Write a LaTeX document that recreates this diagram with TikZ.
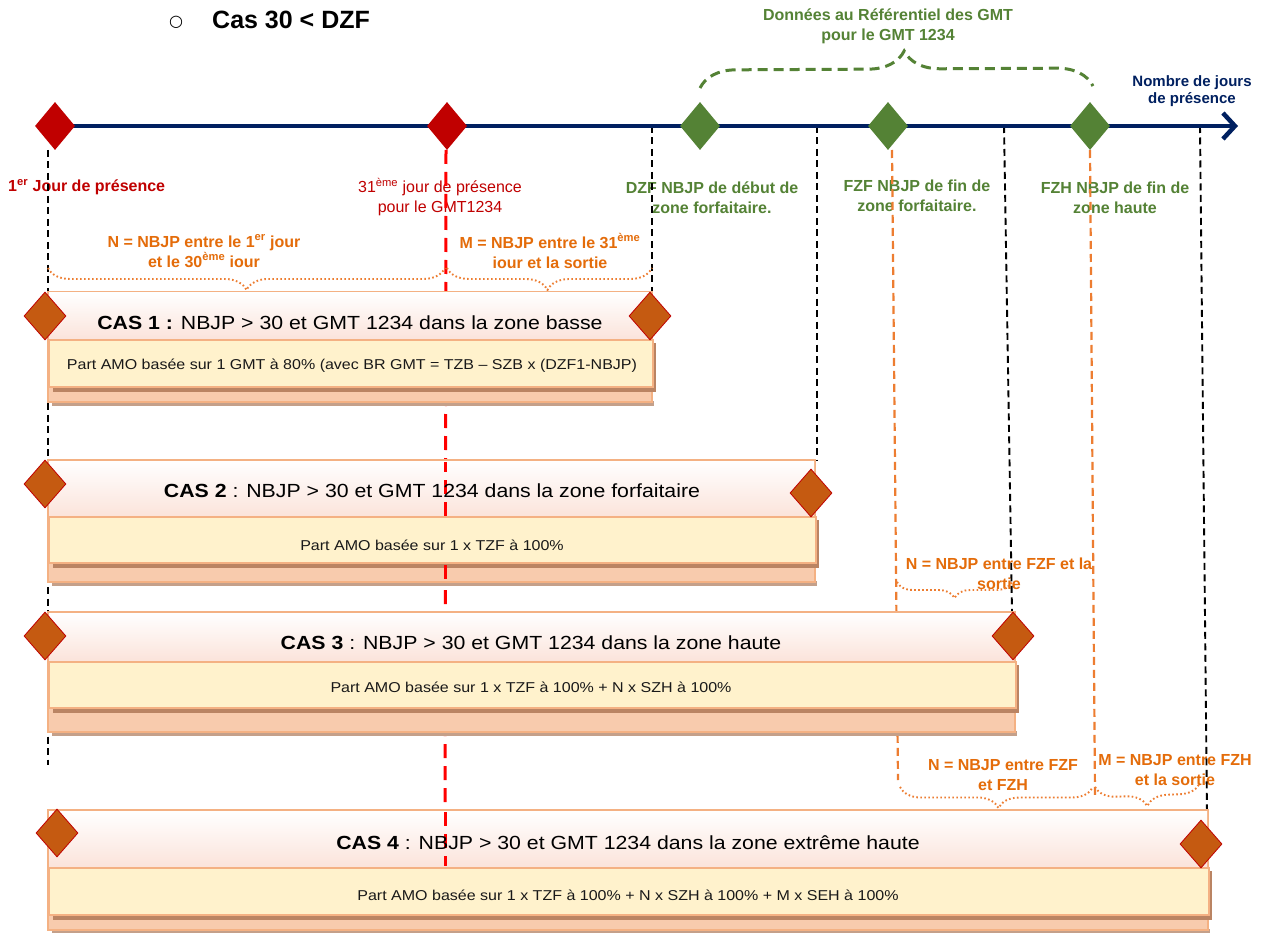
\documentclass[tikz,border=0pt]{standalone}
\usepackage{fontspec}
\setmainfont{Liberation Sans}
\newfontfamily\stretchfont[FakeStretch=1.12]{Liberation Sans}
\newfontfamily\symfont{DejaVu Sans}
\usetikzlibrary{shapes.geometric,decorations.pathreplacing,arrows.meta}
\definecolor{navy}{HTML}{002060}
\definecolor{dred}{HTML}{C00000}
\definecolor{bred}{HTML}{FF0000}
\definecolor{dgreen}{HTML}{548235}
\definecolor{orng}{HTML}{E46C0A}
\definecolor{orngl}{HTML}{ED7D31}
\definecolor{brn}{HTML}{C55A11}
\definecolor{salmon}{HTML}{F4B183}
\definecolor{bandc}{HTML}{F8CBAD}
\definecolor{cream}{HTML}{FFF2CC}
\definecolor{shad}{HTML}{BA8463}
\definecolor{shadb}{HTML}{C4A08A}
\definecolor{pinkish}{HTML}{FBE3DA}
\newcommand\drawcas[6]{%
  \fill[shadb] (#1+4,#6-4) rectangle (#2+2,#6+1);
  \filldraw[fill=bandc, draw=salmon, line width=2pt] (#1,#3) rectangle (#2,#6-3);
  \shade[top color=white, bottom color=pinkish] (#1+1,#3+1) rectangle (#2-1,#4);
  \fill[shad] (#1+5,#4+3) rectangle (#2+4,#5+5);
  \filldraw[fill=cream, draw=salmon, line width=2pt] (#1+1,#4) rectangle (#2+1,#5);
}
\tikzset{
  axdia/.style={diamond, aspect=1, inner sep=0pt, minimum width=40pt, minimum height=48pt, draw=none},
  reddia/.style={axdia, fill=dred},
  greendia/.style={axdia, fill=dgreen},
  casdia/.style={diamond, aspect=1, inner sep=0pt, minimum width=42pt, minimum height=48pt, fill=brn, draw=dred, line width=0.8pt},
  blackdash/.style={draw=black, line width=1.9pt, dash pattern=on 7pt off 4.5pt},
  reddash/.style={draw=bred, line width=3pt, dash pattern=on 14pt off 8pt},
  orngdash/.style={draw=orngl, line width=2.2pt, dash pattern=on 8pt off 5pt},
  obrace/.style={draw=orngl, line width=1.9pt, dash pattern=on 1.6pt off 2.4pt, decorate},
  gbrace/.style={draw=dgreen, line width=3pt, dash pattern=on 10pt off 6pt, decorate},
  lblb/.style={align=center, inner sep=0pt, font=\fontsize{16}{20}\selectfont\bfseries},
  lblr/.style={align=center, inner sep=0pt, font=\fontsize{16}{20}\selectfont},
  hdr/.style={inner sep=0pt, font=\stretchfont\fontsize{19}{22}\selectfont},
  inr/.style={inner sep=0pt, font=\stretchfont\fontsize{14.3}{17}\selectfont, text=black!90},
}
\begin{document}
\begin{tikzpicture}[x=1pt, y=-1pt]
\fill[white] (0,0) rectangle (1274,933);
\useasboundingbox (0,0) rectangle (1274,933);

% title
\node[inner sep=0pt, font=\symfont\fontsize{16}{18}\selectfont] (bul) at (176,22) {○};
\node[inner sep=0pt, anchor=west, font=\fontsize{25}{30}\selectfont\bfseries] (title) at (212,20) {Cas 30 < DZF};

% labels
\node[lblb, text=dgreen] (gmt) at (888,26) {Données au Référentiel des GMT\\pour le GMT 1234};
\node[align=center, inner sep=0pt, font=\fontsize{15}{17}\selectfont\bfseries, text=navy] (nbj) at (1192,91) {Nombre de jours\\de présence};
\node[lblb, text=dred, anchor=west] (l1) at (8,187) {1\textsuperscript{er} Jour de présence};
\node[lblr, text=dred] (l31) at (440,197) {31\textsuperscript{ème} jour de présence\\pour le GMT1234};
\node[lblb, text=dgreen] (ldzf) at (712,198) {DZF NBJP de début de\\zone forfaitaire.};
\node[lblb, text=dgreen] (lfzf) at (917,196) {FZF NBJP de fin de\\zone forfaitaire.};
\node[lblb, text=dgreen] (lfzh) at (1115,198) {FZH NBJP de fin de\\zone haute};
\node[lblb, text=orng] (ln1) at (204,251) {N = NBJP entre le 1\textsuperscript{er} jour\\et le 30\textsuperscript{ème} iour};
\node[lblb, text=orng] (lm1) at (550,251) {M = NBJP entre le 31\textsuperscript{ème}\\iour et la sortie};
\node[lblb, text=orng] (ln2) at (999,574) {N = NBJP entre FZF et la\\sortie};
\node[lblb, text=orng] (ln3) at (1003,775) {N = NBJP entre FZF\\et FZH};
\node[lblb, text=orng] (lm3) at (1175,770) {M = NBJP entre FZH\\et la sortie};

% line end points
\coordinate (k1a) at (48,150); \coordinate (k1b) at (48,765);
\coordinate (k2a) at (652,126); \coordinate (k2b) at (652,292);
\coordinate (k3a) at (817,126); \coordinate (k3b) at (817,460);
\coordinate (k4a) at (1004,126); \coordinate (k4b) at (1012,612);
\coordinate (k5a) at (1200,126); \coordinate (k5b) at (1207,815);
\coordinate (r1a) at (446,150); \coordinate (r1b) at (445,810);
\coordinate (o1a) at (892,150); \coordinate (o1b) at (898,780);
\coordinate (o2a) at (1090,150); \coordinate (o2b) at (1095,795);

\draw[blackdash] (k1a) -- (k1b);
\draw[blackdash] (k2a) -- (k2b);
\draw[blackdash] (k3a) -- (k3b);
\draw[blackdash] (k4a) -- (k4b);
\draw[blackdash] (k5a) -- (k5b);
\draw[reddash] (r1a) -- (r1b);
\draw[orngdash] (o1a) -- (o1b);
\draw[orngdash] (o2a) -- (o2b);

% axis
\coordinate (axs) at (55,126);
\coordinate (axe) at (1238,126);
\draw[navy, line width=4.5pt, -{Straight Barb[length=12pt, width=26pt]}] (axs) -- (axe);
\node[reddia] (d1) at (55,126) {};
\node[reddia] (d31) at (447,126) {};
\node[greendia] (dzf) at (700,126) {};
\node[greendia] (fzf) at (888,126) {};
\node[greendia] (fzh) at (1090,126) {};

% braces
\coordinate (gb1) at (700,88); \coordinate (gb2) at (1093,86);
\draw[gbrace, decoration={brace, amplitude=36pt, aspect=0.52}] (gb1) -- (gb2);
\coordinate (b1a) at (48,268); \coordinate (b1b) at (445,268);
\coordinate (b2a) at (447,268); \coordinate (b2b) at (652,268);
\coordinate (b3a) at (897,582); \coordinate (b3b) at (1012,582);
\coordinate (b4a) at (900,787); \coordinate (b4b) at (1093,787);
\coordinate (b5a) at (1095,787); \coordinate (b5b) at (1200,783);
\draw[obrace, decoration={brace, mirror, amplitude=22pt, aspect=0.5}] (b1a) -- (b1b);
\draw[obrace, decoration={brace, mirror, amplitude=22pt, aspect=0.49}] (b2a) -- (b2b);
\draw[obrace, decoration={brace, mirror, amplitude=16pt, aspect=0.5}] (b3a) -- (b3b);
\draw[obrace, decoration={brace, mirror, amplitude=21pt, aspect=0.51}] (b4a) -- (b4b);
\draw[obrace, decoration={brace, mirror, amplitude=21pt, aspect=0.49}] (b5a) -- (b5b);

% boxes
\drawcas{48}{652}{292}{340}{387}{405}
\drawcas{48}{815}{460}{517}{563}{585}
\drawcas{48}{1015}{612}{662}{708}{735}
\drawcas{48}{1208}{810}{868}{915}{933}

% red line visible over some boxes
\coordinate (ra1) at (445,462); \coordinate (ra2) at (445,516);
\coordinate (ra3) at (445,565); \coordinate (ra4) at (445,585);
\coordinate (ra5) at (445,812); \coordinate (ra6) at (445,866);
\draw[reddash, dash phase=4pt] (ra1) -- (ra2);
\draw[reddash] (ra3) -- (ra4);
\draw[reddash] (ra5) -- (ra6);

% box diamonds
\node[casdia] (c1l) at (45,316) {};
\node[casdia] (c1r) at (650,316) {};
\node[casdia] (c2l) at (45,484) {};
\node[casdia] (c2r) at (811,493) {};
\node[casdia] (c3l) at (45,636) {};
\node[casdia] (c3r) at (1013,636) {};
\node[casdia] (c4l) at (57,833) {};
\node[casdia] (c4r) at (1201,844) {};

% box texts
\node[hdr] (h1) at (350,323) {\textbf{CAS 1 :} NBJP > 30 et GMT 1234 dans la zone basse};
\node[inr] (i1) at (352,366) {Part AMO basée sur 1 GMT à 80\% (avec BR GMT = TZB – SZB x (DZF1-NBJP)};
\node[hdr] (h2) at (432,491) {\textbf{CAS 2} : NBJP > 30 et GMT 1234 dans la zone forfaitaire};
\node[inr] (i2) at (432,545) {Part AMO basée sur 1 x TZF à 100\%};
\node[hdr] (h3) at (531,643) {\textbf{CAS 3} : NBJP > 30 et GMT 1234 dans la zone haute};
\node[inr] (i3) at (531,687) {Part AMO basée sur 1 x TZF à 100\% + N x SZH à 100\%};
\node[hdr] (h4) at (628,843) {\textbf{CAS 4} : NBJP > 30 et GMT 1234 dans la zone extrême haute};
\node[inr] (i4) at (628,895) {Part AMO basée sur 1 x TZF à 100\% + N x SZH à 100\% + M x SEH à 100\%};
\end{tikzpicture}
\end{document}
